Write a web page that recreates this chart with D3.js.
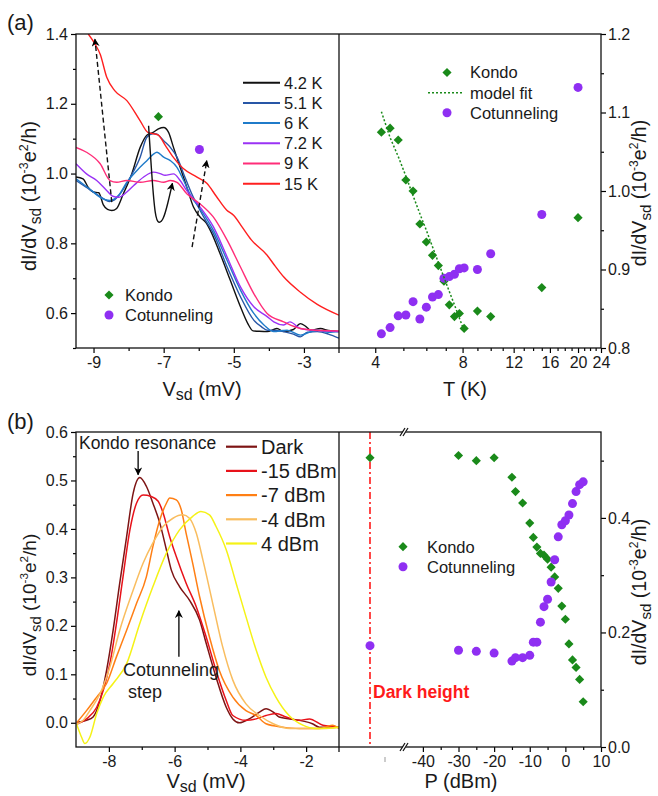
<!DOCTYPE html>
<html>
<head>
<meta charset="utf-8">
<script src="https://cdn.jsdelivr.net/npm/d3@7"></script>
<style>
  body { margin: 0; background: #fff; }
</style>
</head>
<body>
<svg id="chart" width="658" height="796"></svg>
<script>
// ---------- (a) left: dI/dV vs Vsd at several temperatures  [Vsd (mV), dI/dV]
const tempLabels = ["4.2 K", "5.1 K", "6 K", "7.2 K", "9 K", "15 K"];
const curve42K = [[-9.5,0.99],[-9.3,0.985],[-9.15,0.96],[-9.0,0.947],[-8.85,0.945],[-8.72,0.91],[-8.6,0.897],[-8.48,0.894],[-8.34,0.9],[-8.15,0.942],[-7.91,0.999],[-7.67,1.075],[-7.48,1.11],[-7.3,1.118],[-7.15,1.128],[-7.0,1.132],[-6.86,1.118],[-6.72,1.075],[-6.53,1.018],[-6.34,0.961],[-6.15,0.904],[-5.96,0.875],[-5.8,0.86],[-5.67,0.837],[-5.39,0.77],[-5.1,0.694],[-4.81,0.618],[-4.6,0.57],[-4.45,0.549],[-4.3,0.548],[-4.05,0.547],[-3.77,0.556],[-3.58,0.547],[-3.3,0.553],[-3.1,0.57],[-2.95,0.562],[-2.81,0.551],[-2.53,0.556],[-2.3,0.55],[-2.0,0.547]];
const curve51K = [[-9.5,0.98],[-9.2,0.96],[-9.0,0.947],[-8.72,0.928],[-8.55,0.92],[-8.43,0.923],[-8.24,0.942],[-7.95,0.99],[-7.67,1.047],[-7.48,1.104],[-7.3,1.115],[-7.19,1.113],[-7.0,1.094],[-6.81,1.075],[-6.62,1.047],[-6.43,0.999],[-6.2,0.942],[-5.96,0.894],[-5.8,0.865],[-5.58,0.828],[-5.19,0.732],[-4.81,0.647],[-4.43,0.58],[-4.2,0.56],[-4.05,0.551],[-3.8,0.55],[-3.58,0.547],[-3.3,0.54],[-3.1,0.532],[-2.9,0.545],[-2.62,0.547],[-2.3,0.54],[-2.0,0.528]];
const curve6K = [[-9.5,0.985],[-9.3,0.97],[-9.1,0.955],[-8.81,0.932],[-8.53,0.923],[-8.29,0.937],[-8.05,0.975],[-7.76,1.009],[-7.48,1.037],[-7.3,1.055],[-7.19,1.061],[-7.0,1.047],[-6.81,1.037],[-6.62,1.018],[-6.43,0.98],[-6.2,0.932],[-5.96,0.899],[-5.58,0.837],[-5.19,0.751],[-4.81,0.666],[-4.43,0.599],[-4.14,0.566],[-3.86,0.547],[-3.6,0.55],[-3.48,0.551],[-3.1,0.537],[-2.85,0.545],[-2.62,0.551],[-2.3,0.545],[-2.0,0.547]];
const curve72K = [[-9.5,1.028],[-9.2,0.999],[-8.91,0.98],[-8.62,0.951],[-8.45,0.935],[-8.29,0.932],[-8.05,0.947],[-7.86,0.965],[-7.57,0.99],[-7.29,1.004],[-7.1,1.0],[-6.96,0.995],[-6.72,0.999],[-6.53,0.98],[-6.34,0.951],[-5.96,0.904],[-5.58,0.847],[-5.19,0.761],[-4.81,0.675],[-4.43,0.618],[-4.05,0.59],[-3.86,0.575],[-3.58,0.566],[-3.4,0.575],[-3.1,0.556],[-2.62,0.55],[-2.0,0.547]];
const curve9K = [[-9.5,1.075],[-9.2,1.061],[-8.81,1.028],[-8.53,0.98],[-8.34,0.975],[-8.05,0.98],[-7.67,0.975],[-7.29,0.98],[-7.0,0.975],[-6.81,0.98],[-6.62,0.975],[-6.34,0.942],[-5.96,0.913],[-5.58,0.875],[-5.19,0.809],[-4.81,0.732],[-4.43,0.656],[-4.05,0.599],[-3.58,0.575],[-3.1,0.556],[-2.5,0.55],[-2.0,0.549]];
const curve15K = [[-9.15,1.40],[-8.95,1.37],[-8.81,1.342],[-8.62,1.275],[-8.39,1.237],[-8.05,1.209],[-7.67,1.151],[-7.45,1.118],[-7.15,1.11],[-6.95,1.08],[-6.75,1.05],[-6.45,1.015],[-6.05,0.99],[-5.77,0.972],[-5.5,0.935],[-5.2,0.895],[-5.0,0.88],[-4.75,0.845],[-4.5,0.81],[-4.05,0.766],[-3.86,0.74],[-3.58,0.704],[-3.1,0.66],[-2.62,0.625],[-2.0,0.594]];
const tempCurves = [curve42K, curve51K, curve6K, curve72K, curve9K, curve15K];

// markers and arrows drawn on top of the (a) left curves
const kondoPeakA = [-7.15, 1.163];
const cotStepA = [-5.98, 1.069];
const dashArrow1 = [[-8.48, 0.918], [-8.96, 1.385]];
const dashArrow2 = [[-6.19, 0.789], [-5.77, 1.037]];
const loopArrow = [[-7.43, 1.137], [-7.33, 0.98], [-7.24, 0.875], [-7.15, 0.856], [-7.01, 0.866], [-6.88, 0.915], [-6.75, 0.972]];

// ---------- (a) right: peak heights vs temperature
const tempK = [4.2, 4.5, 4.8, 5.1, 5.4, 5.7, 6.0, 6.3, 6.6, 6.9, 7.2, 7.5, 7.8, 8.1, 9, 10, 15, 20];
const kondoT = [1.075, 1.08, 1.065, 1.014, 1.0, 0.958, 0.935, 0.918, 0.905, 0.885, 0.855, 0.84, 0.844, 0.825, 0.847, 0.84, 0.877, 0.966];
const cotT = [0.818, 0.826, 0.841, 0.842, 0.859, 0.837, 0.852, 0.865, 0.868, 0.889, 0.891, 0.894, 0.901, 0.902, 0.9, 0.92, 0.97, 1.132];
const fitT = [4.2, 4.5, 4.8, 5.1, 5.4, 5.7, 6.0, 6.3, 6.6, 6.9, 7.2, 7.5, 7.8, 8.1];
const fitG = [1.101, 1.068, 1.044, 1.019, 0.994, 0.971, 0.95, 0.929, 0.909, 0.89, 0.872, 0.855, 0.838, 0.822];
const tTicks = [4, 8, 12, 16, 20, 24];

// ---------- (b) left: dI/dV vs Vsd under illumination  [Vsd (mV), dI/dV]
const powerLabels = ["Dark", "-15 dBm", "-7 dBm", "-4 dBm", "4 dBm"];
const curveDark = [[-8.98,0.001],[-8.68,0.005],[-8.48,0.012],[-8.27,0.046],[-8.07,0.108],[-7.87,0.191],[-7.67,0.288],[-7.46,0.384],[-7.26,0.474],[-7.06,0.506],[-6.86,0.488],[-6.66,0.453],[-6.45,0.412],[-6.25,0.357],[-6.1,0.315],[-5.85,0.281],[-5.55,0.253],[-5.24,0.212],[-5.04,0.164],[-4.74,0.094],[-4.43,0.032],[-4.23,0.008],[-4.03,0.0],[-3.73,0.008],[-3.42,0.022],[-3.22,0.029],[-3.0,0.022],[-2.82,0.012],[-2.5,0.008],[-2.21,0.005],[-1.81,-0.002],[-1.6,-0.009],[-1.0,-0.009]];
const curveM15 = [[-8.98,-0.003],[-8.68,0.008],[-8.37,0.032],[-8.17,0.067],[-7.97,0.122],[-7.77,0.205],[-7.57,0.301],[-7.36,0.398],[-7.16,0.453],[-6.96,0.47],[-6.71,0.467],[-6.5,0.457],[-6.35,0.433],[-6.15,0.384],[-5.95,0.343],[-5.65,0.288],[-5.34,0.239],[-5.04,0.177],[-4.74,0.108],[-4.43,0.046],[-4.23,0.015],[-3.83,0.005],[-3.52,0.008],[-3.22,0.015],[-2.92,0.019],[-2.61,0.012],[-2.21,0.005],[-1.9,0.008],[-1.49,-0.005],[-1.0,-0.009]];
const curveM7 = [[-8.98,0.0],[-8.68,0.025],[-8.37,0.053],[-8.07,0.081],[-7.77,0.136],[-7.46,0.191],[-7.16,0.246],[-6.86,0.301],[-6.66,0.364],[-6.45,0.419],[-6.25,0.453],[-6.15,0.464],[-5.95,0.46],[-5.8,0.44],[-5.65,0.391],[-5.45,0.329],[-5.24,0.26],[-4.94,0.177],[-4.64,0.108],[-4.23,0.053],[-3.83,0.025],[-3.52,0.015],[-3.22,-0.002],[-2.71,-0.009],[-2.21,-0.012],[-1.6,-0.012],[-1.2,-0.005],[-1.0,-0.012]];
const curveM4 = [[-8.98,-0.003],[-8.78,0.005],[-8.58,0.025],[-8.27,0.06],[-7.97,0.115],[-7.67,0.191],[-7.26,0.274],[-6.96,0.329],[-6.66,0.371],[-6.35,0.405],[-6.05,0.422],[-5.75,0.429],[-5.55,0.422],[-5.34,0.391],[-5.14,0.336],[-4.84,0.246],[-4.54,0.157],[-4.23,0.088],[-3.83,0.039],[-3.42,0.015],[-3.0,-0.002],[-2.5,-0.012],[-2.0,-0.012],[-1.5,-0.012],[-1.0,-0.009]];
const curveP4 = [[-8.98,-0.003],[-8.83,-0.03],[-8.73,-0.043],[-8.58,-0.03],[-8.37,0.019],[-8.17,0.053],[-7.87,0.081],[-7.46,0.122],[-7.06,0.205],[-6.66,0.281],[-6.25,0.35],[-5.85,0.398],[-5.45,0.426],[-5.2,0.436],[-4.94,0.429],[-4.74,0.405],[-4.43,0.357],[-4.13,0.288],[-3.83,0.219],[-3.52,0.15],[-3.22,0.094],[-2.92,0.053],[-2.52,0.015],[-2.1,-0.005],[-1.7,-0.012],[-1.0,-0.009]];
const powerCurves = [curveDark, curveM15, curveM7, curveM4, curveP4];

// ---------- (b) right: peak heights vs microwave power
const powerDBm = [-30, -25, -20, -15, -14, -12, -10, -9, -8, -7, -6, -5, -4, -3, -2, -1, 0, 1, 2, 3, 4, 5];
const kondoP = [0.509, 0.5, 0.505, 0.471, 0.446, 0.426, 0.391, 0.366, 0.349, 0.338, 0.335, 0.328, 0.314, 0.297, 0.277, 0.246, 0.223, 0.18, 0.152, 0.139, 0.118, 0.079];
const cotP = [0.169, 0.167, 0.164, 0.15, 0.156, 0.156, 0.16, 0.183, 0.183, 0.218, 0.245, 0.258, 0.288, 0.327, 0.367, 0.388, 0.395, 0.405, 0.425, 0.446, 0.458, 0.463];
const darkKondo = 0.505;
const darkCot = 0.177;
const pTicks = [-40, -30, -20, -10, 0, 10];

// ---------- styles
const FONT = "Arial, 'Liberation Sans', Helvetica, sans-serif";
const tempColors = ["#111111", "#2856a6", "#1f7bc9", "#9a32f5", "#ff2d78", "#ff1f1f"];
const powerColors = ["#7d1414", "#e8121a", "#ff7f14", "#f9bd5f", "#f5f216"];
const green = "#1a8a1a";
const purple = "#8f2ff2";

const svg = d3.select("#chart");

const L = 76, M = 339, R = 601;
const aTop = 34, aBot = 348, bTop = 432, bBot = 747;
const brk = 404;

const xA = d3.scaleLinear().domain([-9.5, -2]).range([L, M]);
const yA = d3.scaleLinear().domain([0.5, 1.4]).range([aBot, aTop]);
const tA = d3.scaleLog().domain([3, 24]).range([M, R]);
const yAR = d3.scaleLinear().domain([0.8, 1.2]).range([aBot, aTop]);
const xB = d3.scaleLinear().domain([-9, -1]).range([L, M]);
const yB = d3.scaleLinear().domain([-0.05, 0.6]).range([bBot, bTop]);
const pB = d3.scaleLinear().domain([-45.3, 10]).range([brk, R]);
const darkX = d3.scalePoint().domain(["Dark"]).range([M, brk - 3]);
const yBR = d3.scaleLinear().domain([0, 0.55]).range([bBot, bTop]);

const defs = svg.append("defs");
defs.append("clipPath").attr("id", "clipA")
    .append("rect").attr("x", L).attr("y", aTop).attr("width", M - L).attr("height", aBot - aTop);
defs.append("clipPath").attr("id", "clipB")
    .append("rect").attr("x", L).attr("y", bTop).attr("width", M - L).attr("height", bBot - bTop);
defs.append("marker")
    .attr("id", "arrow")
    .attr("viewBox", "0 0 10 10")
    .attr("refX", 9).attr("refY", 5)
    .attr("markerWidth", 8).attr("markerHeight", 8)
    .attr("markerUnits", "userSpaceOnUse")
    .attr("orient", "auto")
  .append("path")
    .attr("d", "M0,0L10,5L0,10L3,5z")
    .attr("fill", "#000");

const diamond = d3.symbol().type(d3.symbolSquare).size(42);

function addDiamonds(g, pts) {
    g.selectAll(null).data(pts).join("path")
        .attr("d", diamond())
        .attr("transform", d => `translate(${d[0]},${d[1]}) rotate(45)`)
        .attr("fill", green);
}

function addCircles(g, pts) {
    g.selectAll(null).data(pts).join("circle")
        .attr("cx", d => d[0]).attr("cy", d => d[1])
        .attr("r", 4.5)
        .attr("fill", purple);
}

function axis(axisFn, scale, major, minor, fmt, tx, ty, pad) {
    const g = svg.append("g").attr("transform", `translate(${tx},${ty})`);
    g.append("g").call(axisFn(scale).tickValues(minor).tickSize(3).tickFormat(""));
    g.append("g").call(axisFn(scale).tickValues(major).tickSize(5).tickPadding(pad).tickFormat(fmt));
    g.selectAll(".domain").remove();
    g.selectAll(".tick line").attr("stroke", "#000").attr("stroke-width", 1.2);
    g.selectAll(".tick text")
        .attr("font-family", FONT)
        .attr("font-size", 16)
        .attr("fill", "#1a1a1a");
    return g;
}

function yTitle(x, y, size) {
    const t = svg.append("text")
        .attr("transform", `translate(${x},${y}) rotate(-90)`)
        .attr("text-anchor", "middle")
        .attr("font-family", FONT)
        .attr("font-size", size)
        .attr("fill", "#1a1a1a");
    t.append("tspan").text("dI/dV");
    t.append("tspan").attr("font-size", size * 0.78).attr("dy", size * 0.25).text("sd");
    t.append("tspan").attr("dy", -size * 0.25).text(" (10");
    t.append("tspan").attr("font-size", size * 0.62).attr("dy", -size * 0.4).text("-3");
    t.append("tspan").attr("dy", size * 0.4).text("e");
    t.append("tspan").attr("font-size", size * 0.62).attr("dy", -size * 0.4).text("2");
    t.append("tspan").attr("dy", size * 0.4).text("/h)");
}

function xTitleV(x, y) {
    const t = svg.append("text")
        .attr("x", x).attr("y", y)
        .attr("text-anchor", "middle")
        .attr("font-family", FONT)
        .attr("font-size", 20)
        .attr("fill", "#1a1a1a");
    t.append("tspan").text("V");
    t.append("tspan").attr("font-size", 16).attr("dy", 4).text("sd");
    t.append("tspan").attr("dy", -4).text(" (mV)");
}

function plainText(x, y, str, size, opts) {
    return svg.append("text")
        .attr("x", x).attr("y", y)
        .attr("font-family", FONT)
        .attr("font-size", size)
        .attr("fill", (opts && opts.fill) || "#1a1a1a")
        .attr("font-weight", (opts && opts.bold) ? "bold" : null)
        .attr("text-anchor", (opts && opts.anchor) || "start")
        .text(str);
}

// ======================= panel (a) =======================

// left: temperature curves
const lineA = d3.line()
    .x(d => xA(d[0]))
    .y(d => yA(d[1]))
    .curve(d3.curveMonotoneX);

svg.append("g")
    .attr("clip-path", "url(#clipA)")
    .selectAll("path")
    .data(tempCurves)
    .join("path")
    .attr("d", lineA)
    .attr("fill", "none")
    .attr("stroke", (d, i) => tempColors[i])
    .attr("stroke-width", 1.4);

// arrows
const arrowLine = d3.line().x(d => xA(d[0])).y(d => yA(d[1]));
[dashArrow1, dashArrow2].forEach(a => {
    svg.append("path")
        .attr("d", arrowLine(a))
        .attr("fill", "none")
        .attr("stroke", "#111")
        .attr("stroke-width", 1.4)
        .attr("stroke-dasharray", "5,3")
        .attr("marker-end", "url(#arrow)");
});
svg.append("path")
    .attr("d", d3.line().x(d => xA(d[0])).y(d => yA(d[1])).curve(d3.curveBasis)(loopArrow))
    .attr("fill", "none")
    .attr("stroke", "#111")
    .attr("stroke-width", 1.4)
    .attr("marker-end", "url(#arrow)");

const mA = svg.append("g");
addDiamonds(mA, [[xA(kondoPeakA[0]), yA(kondoPeakA[1])]]);
addCircles(mA, [[xA(cotStepA[0]), yA(cotStepA[1])]]);

// temperature legend
const legA = svg.append("g");
tempLabels.forEach((lab, i) => {
    const y = 82.7 + i * 20.2;
    legA.append("line")
        .attr("x1", 243).attr("x2", 280).attr("y1", y).attr("y2", y)
        .attr("stroke", tempColors[i]).attr("stroke-width", 2);
    legA.append("text")
        .attr("x", 284).attr("y", y).attr("dy", "0.36em")
        .attr("font-family", FONT).attr("font-size", 16.5).attr("fill", "#1a1a1a")
        .text(lab);
});

// marker legend, lower left
addDiamonds(legA, [[109, 295]]);
addCircles(legA, [[109, 315]]);
plainText(125, 295, "Kondo", 16.5).attr("dy", "0.36em");
plainText(125, 315, "Cotunneling", 16.5).attr("dy", "0.36em");

// right: heights vs T
const mAR = svg.append("g");
svg.append("path")
    .attr("d", d3.line().x((d, i) => tA(fitT[i])).y(d => yAR(d))(fitG))
    .attr("fill", "none")
    .attr("stroke", green)
    .attr("stroke-width", 1.5)
    .attr("stroke-dasharray", "2,2");
addDiamonds(mAR, tempK.map((t, i) => [tA(t), yAR(kondoT[i])]));
addCircles(mAR, tempK.map((t, i) => [tA(t), yAR(cotT[i])]));

addDiamonds(mAR, [[447, 72.5]]);
svg.append("line")
    .attr("x1", 428).attr("x2", 462).attr("y1", 92.7).attr("y2", 92.7)
    .attr("stroke", green).attr("stroke-width", 1.5).attr("stroke-dasharray", "2,2");
addCircles(mAR, [[447, 112.7]]);
plainText(470, 72.5, "Kondo", 16.5).attr("dy", "0.36em");
plainText(470, 92.7, "model fit", 16.5).attr("dy", "0.36em");
plainText(470, 112.7, "Cotunneling", 16.5).attr("dy", "0.36em");

// axes (a)
const fmt1 = d3.format(".1f");
axis(d3.axisLeft, yA, [0.6, 0.8, 1.0, 1.2, 1.4], [0.5, 0.7, 0.9, 1.1, 1.3], fmt1, L, 0, 3);
axis(d3.axisBottom, xA, [-9, -7, -5, -3], [-8, -6, -4], d => d, 0, aBot, 4);
axis(d3.axisBottom, tA, tTicks, d3.range(5, 24).filter(t => tTicks.indexOf(t) < 0), d => d, 0, aBot, 4);
axis(d3.axisRight, yAR, [0.8, 0.9, 1.0, 1.1, 1.2], [0.85, 0.95, 1.05, 1.15], fmt1, R, 0, 2);

// frame (a)
svg.append("rect")
    .attr("x", L).attr("y", aTop).attr("width", R - L).attr("height", aBot - aTop)
    .attr("fill", "none").attr("stroke", "#111").attr("stroke-width", 1.3);
svg.append("line")
    .attr("x1", M).attr("x2", M).attr("y1", aTop).attr("y2", aBot + 5)
    .attr("stroke", "#111").attr("stroke-width", 1.3);

yTitle(36, 196, 20);
yTitle(646, 193, 19.5);
xTitleV(202, 396);
plainText(465, 396, "T (K)", 20, {anchor: "middle"});
plainText(7, 30, "(a)", 22);

// ======================= panel (b) =======================

const lineB = d3.line()
    .x(d => xB(d[0]))
    .y(d => yB(d[1]))
    .curve(d3.curveMonotoneX);

svg.append("g")
    .attr("clip-path", "url(#clipB)")
    .selectAll("path")
    .data(powerCurves)
    .join("path")
    .attr("d", lineB)
    .attr("fill", "none")
    .attr("stroke", (d, i) => powerColors[i])
    .attr("stroke-width", 1.5);

// annotations
plainText(xB(-8.91), yB(0.565), "Kondo resonance", 17.5);
svg.append("line")
    .attr("x1", xB(-7.11)).attr("x2", xB(-7.11))
    .attr("y1", yB(0.561)).attr("y2", yB(0.512))
    .attr("stroke", "#111").attr("stroke-width", 1.4)
    .attr("marker-end", "url(#arrow)");
plainText(xB(-7.57), yB(0.0965), "Cotunneling", 18);
plainText(xB(-7.42), yB(0.051), "step", 18);
svg.append("line")
    .attr("x1", xB(-5.87)).attr("x2", xB(-5.87))
    .attr("y1", yB(0.136)).attr("y2", yB(0.231))
    .attr("stroke", "#111").attr("stroke-width", 1.4)
    .attr("marker-end", "url(#arrow)");

// power legend
const legB = svg.append("g");
powerLabels.forEach((lab, i) => {
    const y = 446.7 + i * 24.2;
    legB.append("line")
        .attr("x1", 226).attr("x2", 257).attr("y1", y).attr("y2", y)
        .attr("stroke", powerColors[i]).attr("stroke-width", 2.2);
    legB.append("text")
        .attr("x", 261).attr("y", y).attr("dy", "0.36em")
        .attr("font-family", FONT).attr("font-size", 20).attr("fill", "#1a1a1a")
        .text(lab);
});

// right: heights vs power
svg.append("line")
    .attr("x1", darkX("Dark")).attr("x2", darkX("Dark"))
    .attr("y1", bTop).attr("y2", bBot)
    .attr("stroke", "#ff1a1a").attr("stroke-width", 1.6)
    .attr("stroke-dasharray", "7,3,2,3");
plainText(darkX("Dark") + 3, 698, "Dark height", 17.5, {bold: true, fill: "#ff1a1a"});

const mBR = svg.append("g");
addDiamonds(mBR, [[darkX("Dark"), yBR(darkKondo)]].concat(powerDBm.map((p, i) => [pB(p), yBR(kondoP[i])])));
addCircles(mBR, [[darkX("Dark"), yBR(darkCot)]].concat(powerDBm.map((p, i) => [pB(p), yBR(cotP[i])])));

addDiamonds(mBR, [[403, 546.7]]);
addCircles(mBR, [[403, 566.7]]);
plainText(427, 546.7, "Kondo", 16.5).attr("dy", "0.36em");
plainText(427, 566.7, "Cotunneling", 16.5).attr("dy", "0.36em");

// axes (b)
axis(d3.axisLeft, yB, [0, 0.1, 0.2, 0.3, 0.4, 0.5, 0.6], [0.05, 0.15, 0.25, 0.35, 0.45, 0.55], fmt1, L, 0, 3);
axis(d3.axisBottom, xB, [-8, -6, -4, -2], [-7, -5, -3], d => d, 0, bBot, 4);
axis(d3.axisBottom, pB, pTicks, [-35, -25, -15, -5, 5], d => d, 0, bBot, 4);
axis(d3.axisRight, yBR, [0, 0.2, 0.4], [0.1, 0.3, 0.5], fmt1, R, 0, 2);

// frame (b)
svg.append("rect")
    .attr("x", L).attr("y", bTop).attr("width", R - L).attr("height", bBot - bTop)
    .attr("fill", "none").attr("stroke", "#111").attr("stroke-width", 1.3);
svg.append("line")
    .attr("x1", M).attr("x2", M).attr("y1", bTop).attr("y2", bBot + 5)
    .attr("stroke", "#111").attr("stroke-width", 1.3);

// axis break marks on P axis
[bTop, bBot].forEach(y => {
    svg.append("polygon")
        .attr("points", `${brk - 3},${y + 4} ${brk + 1},${y - 4} ${brk + 4},${y - 4} ${brk},${y + 4}`)
        .attr("fill", "#fff");
    [0, 3].forEach(o => {
        svg.append("line")
            .attr("x1", brk - 4 + o).attr("y1", y + 4)
            .attr("x2", brk + 1 + o).attr("y2", y - 4)
            .attr("stroke", "#111").attr("stroke-width", 1.2);
    });
});
// small stray tick below the dark segment
svg.append("line")
    .attr("x1", 385).attr("x2", 385).attr("y1", 757).attr("y2", 762)
    .attr("stroke", "#999").attr("stroke-width", 1);

yTitle(36, 605, 19);
yTitle(646, 592, 19.5);
xTitleV(206, 788);
plainText(461, 788, "P (dBm)", 20, {anchor: "middle"});
plainText(7, 429, "(b)", 22);
</script>
</body>
</html>
